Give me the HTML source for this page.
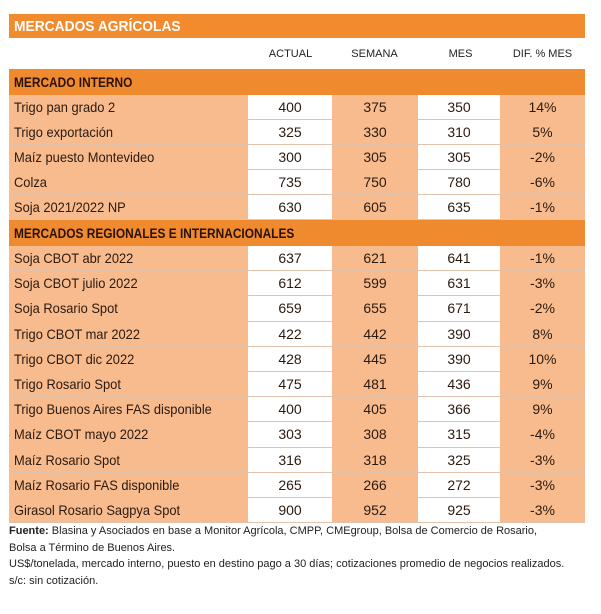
<!DOCTYPE html>
<html><head><meta charset="utf-8"><style>
body{margin:0;width:601px;height:614px;background:#fff;position:relative;overflow:hidden;font-family:"Liberation Sans",sans-serif;color:#2a1a10}
.a{position:absolute;box-sizing:border-box}
.sx{display:inline-block;transform-origin:left center;white-space:nowrap}
.title{left:9px;top:14px;width:576px;height:24px;background:#f28a2e;color:#fff;font-weight:bold;font-size:15px;line-height:25px;padding-left:5px}
.title .sx{transform:scaleX(.92)}
.hd{top:48px;font-size:11px;text-align:center;width:85px;color:#222}
.sec{left:9px;width:576px;height:26px;background:#f08a2f;font-weight:bold;font-size:14px;line-height:26px;padding-left:5px;color:#2a1208}
.sec .sx{transform:scaleX(.85)}
.row{left:9px;width:576px;height:25px;font-size:14px;line-height:25px;border-bottom:1px solid #e2c2aa}
.row div{position:absolute;top:0;height:100%;text-align:center}
.lbl{left:0;width:239px;background:#f8bb8d;text-align:left!important;padding-left:5px;box-sizing:border-box}
.lbl .sx{transform:scaleX(.92)}
.c1{left:239px;width:84px;background:#fff}
.c2{left:323px;width:86px;background:#f8bb8d}
.c3{left:409px;width:82px;background:#fff}
.c4{left:491px;width:85px;background:#f8bb8d}
.foot{left:9px;font-size:11px;line-height:16.5px;top:523px;color:#222}
</style></head><body>
<div class="a title"><span class="sx">MERCADOS AGRÍCOLAS</span></div>
<div class="a hd" style="left:248px">ACTUAL</div>
<div class="a hd" style="left:332px">SEMANA</div>
<div class="a hd" style="left:418px">MES</div>
<div class="a hd" style="left:500px">DIF. % MES</div>
<div id="t"></div>
<div class="a foot"><b>Fuente:</b> Blasina y Asociados en base a Monitor Agrícola, CMPP, CMEgroup, Bolsa de Comercio de Rosario,<br>Bolsa a Término de Buenos Aires.<br>US$/tonelada, mercado interno, puesto en destino pago a 30 días; cotizaciones promedio de negocios realizados.<br>s/c: sin cotización.</div>
<script>
const internoNames=["Trigo pan grado 2","Trigo exportación","Maíz puesto Montevideo","Colza","Soja 2021/2022 NP"];
const internoActual=[400,325,300,735,630];
const internoSemana=[375,330,305,750,605];
const internoMes=[350,310,305,780,635];
const internoDif=["14%","5%","-2%","-6%","-1%"];
const regNames=["Soja CBOT abr 2022","Soja CBOT julio 2022","Soja Rosario Spot","Trigo CBOT mar 2022","Trigo CBOT dic 2022","Trigo Rosario Spot","Trigo Buenos Aires FAS disponible","Maíz CBOT mayo 2022","Maíz Rosario Spot","Maíz Rosario FAS disponible","Girasol Rosario Sagpya Spot"];
const regActual=[637,612,659,422,428,475,400,303,316,265,900];
const regSemana=[621,599,655,442,445,481,405,308,318,266,952];
const regMes=[641,631,671,390,390,436,366,315,325,272,925];
const regDif=["-1%","-3%","-2%","8%","10%","9%","9%","-4%","-3%","-3%","-3%"];
const t=document.getElementById('t');
function sec(txt,top,name){const d=document.createElement('div');d.className='a sec';d.style.top=top+'px';
const s=document.createElement('span');s.className='sx';s.textContent=txt;d.appendChild(s);


t.appendChild(d);}
function rows(n,a,s,m,df,top,h){for(let i=0;i<n.length;i++){const r=document.createElement('div');r.className='a row';r.style.top=(top+i*h)+'px';r.style.height=h+'px';r.style.lineHeight=h+'px';


[[n[i],'lbl'],[a[i],'c1'],[s[i],'c2'],[m[i],'c3'],[df[i],'c4']].forEach(([v,c])=>{const d=document.createElement('div');d.className=c;
if(c==='lbl'){const sp=document.createElement('span');sp.className='sx';sp.textContent=v;d.appendChild(sp);}else d.textContent=v;


r.appendChild(d);});t.appendChild(r);}}
sec('MERCADO INTERNO',69,'section-mercado-interno');
rows(internoNames,internoActual,internoSemana,internoMes,internoDif,95,25);
sec('MERCADOS REGIONALES E INTERNACIONALES',220,'section-mercados-regionales');
rows(regNames,regActual,regSemana,regMes,regDif,246,25.2);
</script>
</body></html>
